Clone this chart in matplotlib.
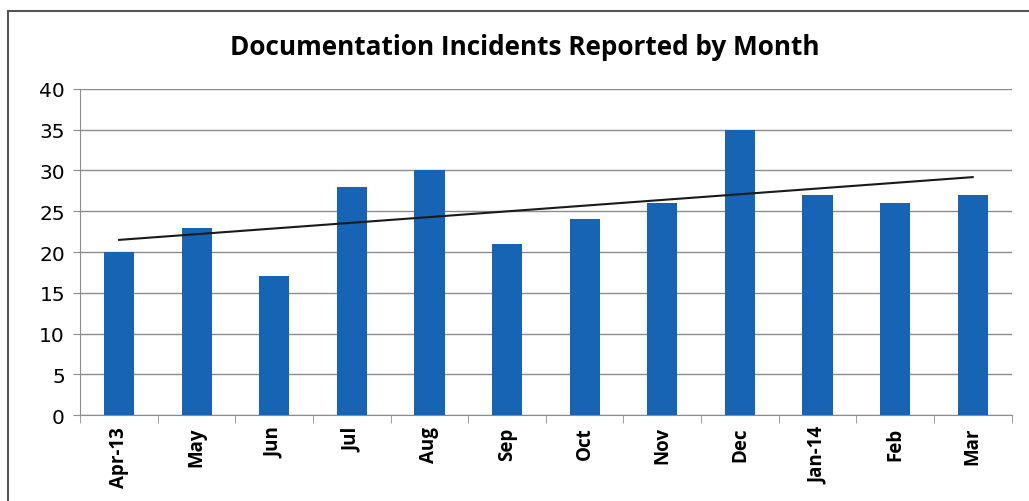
import matplotlib
import numpy as np

matplotlib.use("Agg")
import matplotlib.pyplot as plt
from matplotlib.lines import Line2D

months = ["Apr-13", "May", "Jun", "Jul", "Aug", "Sep", "Oct", "Nov", "Dec", "Jan-14", "Feb", "Mar"]
incidents = [20, 23, 17, 28, 30, 21, 24, 26, 35, 27, 26, 27]
y_ticks = [0, 5, 10, 15, 20, 25, 30, 35, 40]

bar_color = "#1764b4"
grid_color = "#8c8c8c"

fig = plt.figure(figsize=(10.29, 5.02), dpi=100)
ax = fig.add_axes([0.078, 0.171, 0.905, 0.650])

x = np.arange(len(months))
ax.bar(x, incidents, width=0.39, color=bar_color, zorder=3)

# linear trendline, same as the spreadsheet's
slope, intercept = np.polyfit(x, incidents, 1)
ax.plot(x, slope * x + intercept, color="#1a1a1a", linewidth=1.5, zorder=4)

ax.set_xlim(-0.5, len(months) - 0.5)
ax.set_ylim(0, 40)
ax.set_yticks(y_ticks)
ax.set_yticklabels([str(v) for v in y_ticks], fontsize=14.5, family="DejaVu Sans")
ax.yaxis.grid(True, color=grid_color, linewidth=1.0, zorder=0)

ax.set_xticks(x)
ax.set_xticklabels(months, rotation=90, fontsize=13.5, fontweight="bold", family="Open Sans")
ax.set_xticks(np.arange(-0.5, len(months)), minor=True)
ax.tick_params(axis="x", which="major", length=0, pad=8)
ax.tick_params(axis="x", which="minor", length=6, color=grid_color, direction="out")
ax.tick_params(axis="y", length=5, color=grid_color, pad=6)

for side in ["top", "right"]:
    ax.spines[side].set_visible(False)
for side in ["left", "bottom"]:
    ax.spines[side].set_color(grid_color)

fig.text(0.510, 0.905, "Documentation Incidents Reported by Month",
         ha="center", va="center", fontsize=18.8, fontweight="bold", family="Open Sans")

# chart frame (top and left edges visible in the crop)
fig.add_artist(Line2D([0.008, 0.008], [0.0, 0.976], transform=fig.transFigure, color="#555555", linewidth=1.5))
fig.add_artist(Line2D([0.008, 1.0], [0.976, 0.976], transform=fig.transFigure, color="#555555", linewidth=1.5))

fig.savefig("out.png", dpi=100)
